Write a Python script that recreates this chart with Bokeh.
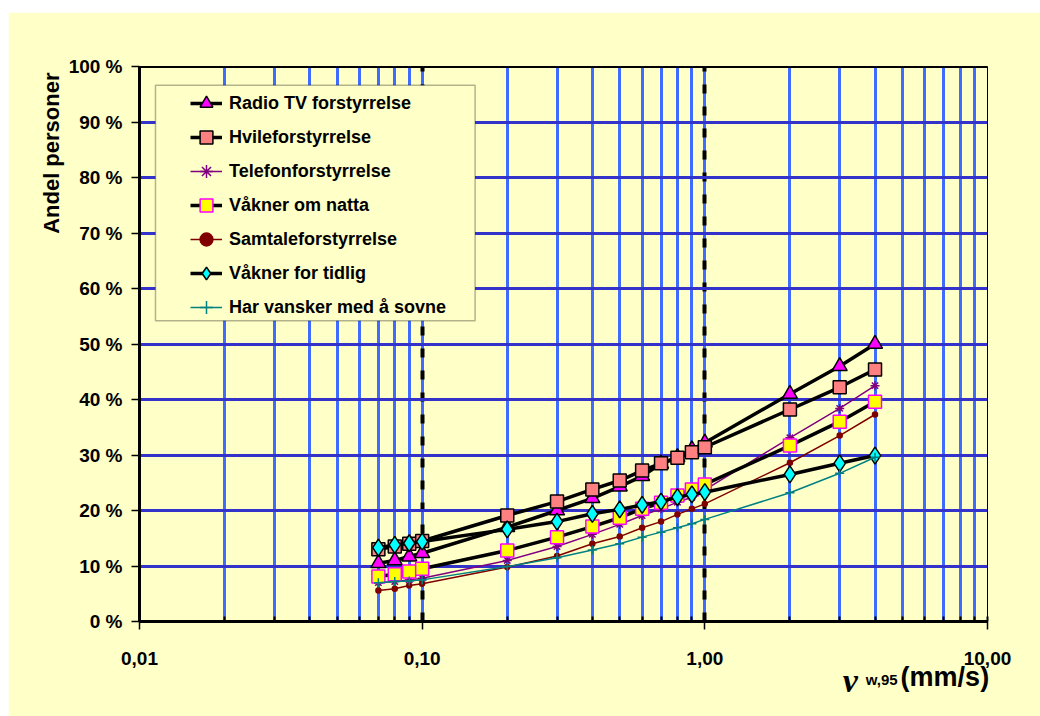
import math
from bokeh.plotting import figure
from bokeh.models import (Range1d, FixedTicker, LogTicker, PrintfTickFormatter,
                          CustomJSTickFormatter, Label, Span, BoxAnnotation, Legend, Title)
from bokeh.embed import file_html
from bokeh.resources import INLINE

# ---------------- data ----------------
x_vals = [0.07, 0.08, 0.09, 0.1, 0.2, 0.3, 0.4, 0.5, 0.6, 0.7, 0.8, 0.9, 1.0, 2.0, 3.0, 4.0]

radio_tv = [10.5, 11.0, 11.7, 12.3, 17.0, 20.0, 22.2, 24.3, 26.2, 28.4, 29.6, 31.0, 32.2, 41.0, 46.0, 50.0]
hvile = [13.0, 13.5, 14.0, 14.5, 19.1, 21.6, 23.8, 25.4, 27.2, 28.5, 29.5, 30.5, 31.4, 38.2, 42.2, 45.4]
telefon = [7.0, 7.2, 7.5, 7.8, 11.0, 13.5, 15.7, 17.5, 19.1, 20.3, 21.5, 22.4, 23.7, 33.1, 38.4, 42.5]
vakner_natta = [8.1, 8.5, 9.0, 9.5, 12.8, 15.2, 17.1, 18.7, 20.3, 21.4, 22.7, 23.8, 24.7, 31.7, 36.0, 39.6]
samtale = [5.6, 5.9, 6.5, 6.8, 9.8, 11.8, 14.0, 15.3, 16.9, 18.0, 19.3, 20.3, 21.2, 28.6, 33.5, 37.3]
vakner_tidlig = [13.3, 13.8, 14.1, 14.4, 16.6, 18.0, 19.4, 20.2, 21.0, 21.6, 22.4, 22.9, 23.3, 26.5, 28.5, 29.9]
vansker_sovne = [7.0, 7.2, 7.3, 7.5, 9.9, 11.5, 12.9, 14.0, 15.2, 16.1, 16.9, 17.6, 18.4, 23.2, 26.7, 29.6]

series_names = ["Radio TV forstyrrelse", "Hvileforstyrrelse", "Telefonforstyrrelse",
                "Våkner om natta", "Samtaleforstyrrelse", "Våkner for tidlig",
                "Har vansker med å sovne"]

y_ticks = [0, 10, 20, 30, 40, 50, 60, 70, 80, 90, 100]
x_label_parts = ["ν", "w,95", "(mm/s)"]
y_label = "Andel personer"

# ---------------- styling ----------------
BG = "#FFFFC8"
FONT = "Liberation Sans"

p = figure(width=1032, height=704, x_axis_type="log",
           x_range=Range1d(0.01, 10), y_range=Range1d(0, 100),
           output_backend="svg", toolbar_location=None,
           min_border_left=131, min_border_right=53,
           min_border_top=54, min_border_bottom=95,
           background_fill_color=BG, border_fill_color=BG)
p.margin = (12, 0, 0, 8)
p.outline_line_color = "black"
p.outline_line_width = 1

xticker = LogTicker(num_minor_ticks=10)

# grids
p.xgrid.ticker = xticker
p.xgrid.grid_line_color = "black"
p.xgrid.grid_line_width = 4
p.xgrid.grid_line_dash = "9 13"
p.xgrid.minor_grid_line_color = "#3F6BFF"
p.xgrid.minor_grid_line_width = 3
p.ygrid.ticker = FixedTicker(ticks=y_ticks)
p.ygrid.grid_line_color = "#3333CC"
p.ygrid.grid_line_width = 3

# axes
xa = p.xaxis[0]
xa.ticker = xticker
xa.formatter = CustomJSTickFormatter(code="return tick.toFixed(2).replace('.', ',');")
xa.axis_line_width = 3
xa.axis_line_color = "black"
xa.major_tick_out = 8
xa.major_tick_in = 0
xa.major_tick_line_width = 1.5
xa.minor_tick_in = 5
xa.minor_tick_out = 0
xa.minor_tick_line_width = 2
xa.major_label_standoff = 22
xa.major_label_text_font = FONT
xa.major_label_text_font_style = "bold"
xa.major_label_text_font_size = "19px"
xa.major_label_text_color = "black"

ya = p.yaxis[0]
ya.ticker = FixedTicker(ticks=y_ticks)
ya.formatter = PrintfTickFormatter(format="%d %%")
ya.axis_line_width = 3
ya.axis_line_color = "black"
ya.major_tick_out = 8
ya.major_tick_in = 0
ya.major_tick_line_width = 1.5
ya.minor_tick_line_color = None
ya.major_label_standoff = 9
ya.major_label_text_font = FONT
ya.major_label_text_font_style = "bold"
ya.major_label_text_font_size = "19px"
ya.major_label_text_color = "black"

# top border line
p.add_layout(Span(location=100, dimension="width", line_color="black", line_width=3))

# legend box
lb_left = 10 ** (-2 + 16 / 283.0)
lb_right = 10 ** (-2 + 336 / 283.0)
box = BoxAnnotation(left=lb_left, right=lb_right, bottom=54.2, top=96.6,
                    fill_color=BG, fill_alpha=1.0, line_color="black", line_width=1.5)
p.add_layout(box)

# ---------------- series ----------------
specs = [
    (radio_tv, "black", 3.5, "triangle", "#FF00FF", "black", 15),
    (hvile, "black", 3.5, "square", "#FF8080", "black", 13),
    (telefon, "#800080", 1.5, "asterisk", None, "#800080", 9),
    (vakner_natta, "black", 3.5, "square", "#FFFF00", "#FF00FF", 13),
    (samtale, "#800000", 1.5, "circle", "#800000", "#800000", 5),
    (vakner_tidlig, "black", 3.5, "diamond", "#00FFFF", "black", 17),
    (vansker_sovne, "#008080", 1.5, "cross", None, "#008080", 9),
]

items = []
for name, (ys, lc, lw, mk, fc, mlc, sz) in zip(series_names, specs):
    r1 = p.line(x_vals, ys, line_color=lc, line_width=lw)
    r2 = p.scatter(x_vals, ys, marker=mk, size=sz,
                   fill_color=fc, line_color=mlc, line_width=1.5)
    items.append((name, [r1, r2]))

legend = Legend(items=items, location=(51, 297), padding=0, spacing=0,
                glyph_width=32, glyph_height=34, label_height=34, label_standoff=7,
                background_fill_alpha=0, border_line_alpha=0,
                label_text_font=FONT, label_text_font_style="bold",
                label_text_font_size="18px", label_text_color="black")
legend.margin = 0
p.add_layout(legend)

# ---------------- axis titles ----------------
p.add_layout(Title(text=y_label, align="right", offset=6, standoff=4,
                   text_font=FONT, text_font_style="bold",
                   text_font_size="22px", text_color="black"), "left")


def xpx(px):
    return 10 ** (-2 + (px - 139) / 283.0)


def ypx(py):
    return (621 - py) / 5.55


p.add_layout(Label(x=xpx(843), y=ypx(680), text=x_label_parts[0],
                   text_align="left", text_baseline="alphabetic",
                   text_font="Liberation Serif", text_font_style="bold italic",
                   text_font_size="34px", text_color="black"), "right")
p.add_layout(Label(x=xpx(866), y=ypx(679), text=x_label_parts[1],
                   text_align="left", text_baseline="alphabetic",
                   text_font=FONT, text_font_style="bold",
                   text_font_size="15px", text_color="black"), "below")
p.add_layout(Label(x=xpx(901), y=ypx(676), text=x_label_parts[2],
                   text_align="left", text_baseline="alphabetic",
                   text_font=FONT, text_font_style="bold",
                   text_font_size="27px", text_color="black"), "above")

open("out.html", "w").write(file_html(p, INLINE))
